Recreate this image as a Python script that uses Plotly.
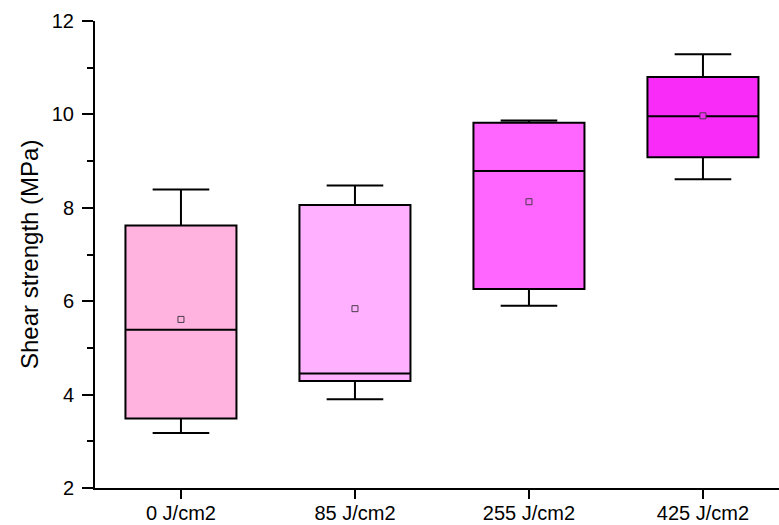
import plotly.graph_objects as go

categories = ["0 J/cm2", "85 J/cm2", "255 J/cm2", "425 J/cm2"]
positions = [0, 1, 2, 3]
lower_whisker = [3.18, 3.90, 5.90, 8.61]
q1_vals = [3.49, 4.29, 6.26, 9.08]
median_vals = [5.39, 4.45, 8.79, 9.96]
q3_vals = [7.62, 8.06, 9.82, 10.80]
upper_whisker = [8.39, 8.48, 9.87, 11.29]
mean_vals = [5.61, 5.84, 8.13, 9.97]
fill_colors = ["#FFB3DE", "#FFB1FF", "#FF66FF", "#F92BF9"]

fig = go.Figure()
for i in range(len(categories)):
    fig.add_trace(go.Box(
        x=[positions[i]],
        q1=[q1_vals[i]], median=[median_vals[i]], q3=[q3_vals[i]],
        lowerfence=[lower_whisker[i]], upperfence=[upper_whisker[i]],
        fillcolor=fill_colors[i],
        line=dict(color="black", width=2),
        width=0.638,
        whiskerwidth=0.51,
        boxpoints=False,
        showlegend=False,
        name=categories[i],
        hoverinfo="skip",
    ))
    fig.add_trace(go.Scatter(
        x=[positions[i]], y=[mean_vals[i]], mode="markers",
        marker=dict(symbol="square", size=6, color=fill_colors[i],
                    line=dict(color="#4a3a4a", width=1)),
        showlegend=False, hoverinfo="skip",
    ))

fig.update_layout(
    width=779, height=525,
    margin=dict(l=95, r=0, t=21, b=37),
    plot_bgcolor="white", paper_bgcolor="white",
    font=dict(family="Liberation Sans, Arial, sans-serif", color="black", size=20),
    xaxis=dict(
        range=[-0.494, 3.437],
        tickmode="array", tickvals=positions, ticktext=categories,
        ticks="outside", ticklen=9, tickwidth=2, tickcolor="black",
        showline=True, linecolor="black", linewidth=2,
        showgrid=False, zeroline=False, automargin=False,
        ticklabelstandoff=-3,
        tickfont=dict(size=20),
    ),
    yaxis=dict(
        range=[2, 12],
        tickmode="array", tickvals=[2, 4, 6, 8, 10, 12],
        ticks="outside", ticklen=11, tickwidth=2, tickcolor="black",
        minor=dict(tickvals=[3, 5, 7, 9, 11], ticks="outside", ticklen=6,
                   tickwidth=2, tickcolor="black", showgrid=False),
        showline=True, linecolor="black", linewidth=2,
        showgrid=False, zeroline=False, automargin=False,
        ticklabelstandoff=4,
        tickfont=dict(size=20),
    ),
    annotations=[dict(
        text="Shear strength (MPa)", textangle=-90,
        xref="paper", yref="paper", x=(29 - 95) / 684, y=(488 - 255) / 467,
        xanchor="center", yanchor="middle", showarrow=False,
        font=dict(size=24, family="Liberation Sans, Arial, sans-serif", color="black"),
    )],
)

fig.write_html("out.html")
